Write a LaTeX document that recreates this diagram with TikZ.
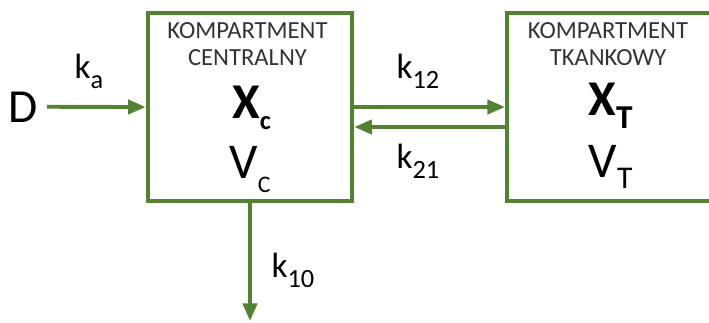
\documentclass[tikz,border=0pt]{standalone}
\usepackage{fontspec}
\setmainfont{Carlito}
\usetikzlibrary{arrows.meta, positioning}
\definecolor{boxgreen}{RGB}{84,130,53}
% lowered subscript: \lowsub{drop}{size}{text}
\newcommand{\lowsub}[3]{\raisebox{-#1}{\fontsize{#2}{#2}\selectfont #3}}

\begin{document}
\begin{tikzpicture}[x=0.02cm, y=-0.02cm,
  comp/.style={draw=boxgreen, line width=2.3pt, minimum width=4.09cm, minimum height=3.77cm, inner sep=0pt},
  flow/.style={draw=boxgreen, line width=2.2pt, -{Triangle[length=10pt, width=8pt]}},
  head/.style={anchor=base, inner sep=0pt, text=black!80, font=\fontsize{14}{16}\selectfont},
  big/.style={anchor=base, inner sep=0pt, font=\fontsize{28.5}{30}\selectfont},
  rate/.style={anchor=base, inner sep=0pt, font=\fontsize{20}{22}\selectfont}
]
\useasboundingbox (0,0) rectangle (709,322);

% Compartments
\node[comp] (central) at (250,107) {};
\node[comp] (tissue) at (609.25,107) {};

% Central compartment texts
\node[head] (centhead) at (247.5,38) {KOMPARTMENT};
\node[head] (centname) at (247.5,65) {CENTRALNY};
\node[big] (xc) at (251.5,118) {\bfseries X\lowsub{6.8pt}{15}{\bfseries c}};
\node[big] (vc) at (250,178) {V\lowsub{8.5pt}{13.5}{C}};

% Tissue compartment texts
\node[head] (tisshead) at (608,38) {KOMPARTMENT};
\node[head] (tissname) at (608,65) {TKANKOWY};
\node[big] (xt) at (610.5,115) {\bfseries X\lowsub{7.4pt}{19}{\bfseries T}};
\node[big] (vt) at (610.5,177) {V\lowsub{6.3pt}{18}{T}};

% Dose and elimination
\node[anchor=base, inner ysep=0pt, inner xsep=5pt, font=\fontsize{27}{29}\selectfont] (dose) at (23.5,122) {D};
\coordinate (sink) at (250,321);

% Transfer arrows
\draw[flow] (dose.east) -- (central.west);
\draw[flow] (central.east) -- (tissue.west);
\draw[flow] ([yshift=-0.4cm]tissue.west) -- ([yshift=-0.4cm]central.east);
\draw[flow] (central.south) -- (sink);

% Rate constants
\node[rate] (ka) at (89,78) {k\lowsub{5.7pt}{15}{a}};
\node[rate] (k12) at (418,78) {k\lowsub{5.7pt}{15}{12}};
\node[rate] (k21) at (418,168) {k\lowsub{5.7pt}{15}{21}};
\node[rate] (k10) at (293,277) {k\lowsub{5.7pt}{15}{10}};

\end{tikzpicture}
\end{document}
